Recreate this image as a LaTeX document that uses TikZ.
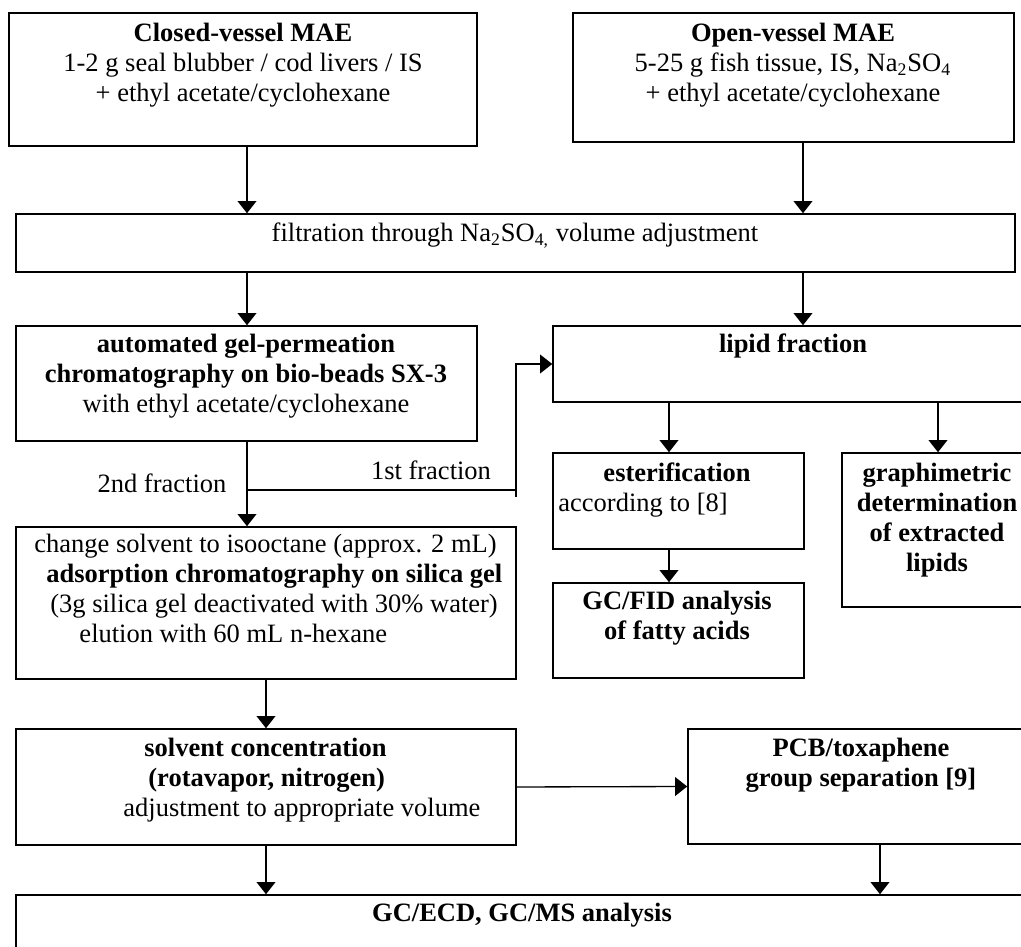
\documentclass[tikz,border=0pt]{standalone}
\usepackage{fontspec}
\setmainfont{Liberation Serif}
\usetikzlibrary{arrows.meta,positioning,fit}

\begin{document}
\begin{tikzpicture}[x=0.4528pt, y=-0.4528pt, >={Triangle[width=8.5pt,length=5.5pt]}]
  \tikzstyle{stage}=[rectangle, draw=black, line width=0.7pt, inner sep=0pt]
  \tikzstyle{stagetext}=[inner sep=0pt, font=\fontsize{12}{13.6}\selectfont]
  \tikzstyle{flow}=[line width=0.6pt]

  \useasboundingbox (0,0) rectangle (1021,947);
  \clip (0,0) rectangle (1021,947);

  % Kaesten
  \node[stage, fit={(9,13) (477,146)}] (closed) {};
  \node[stage, fit={(573,13) (1014,142)}] (open) {};
  \node[stage, fit={(16,214) (1015,272)}] (filt) {};
  \node[stage, fit={(16,326) (477,441)}] (gpc) {};
  \node[stage, fit={(553,326) (1033,402)}] (lipid) {};
  \node[stage, fit={(553,453) (804,549)}] (ester) {};
  \node[stage, fit={(553,583) (804,678)}] (gcfid) {};
  \node[stage, fit={(842,453) (1032,607)}] (graph) {};
  \node[stage, fit={(16,527) (516,679)}] (silica) {};
  \node[stage, fit={(16,729) (516,845)}] (solvent) {};
  \node[stage, fit={(688,729) (1032,844)}] (pcb) {};
  \node[stage, fit={(16,895) (1032,965)}] (gcms) {};

  % Texte (Anker = Grundlinie der letzten Zeile)
  \node[stagetext, anchor=base, align=center] (closedtxt) at (243,101.5)
    {\textbf{Closed-vessel MAE}\\1-2 g seal blubber / cod livers / IS\\+ ethyl acetate/cyclohexane};
  \node[stagetext, anchor=base, align=center] (opentxt) at (793,101.5)
    {\textbf{Open-vessel MAE}\\5-25 g fish tissue, IS, Na\textsubscript{2}SO\textsubscript{4}\\+ ethyl acetate/cyclohexane};
  \node[stagetext, anchor=base] (filttxt) at (515,241.5)
    {filtration through Na\textsubscript{2}SO\textsubscript{4,} volume adjustment};
  \node[stagetext, anchor=base, align=center] (gpctxt) at (246,413)
    {\textbf{automated gel-permeation}\\\textbf{chromatography on bio-beads SX-3}\\with ethyl acetate/cyclohexane};
  \node[stagetext, anchor=base] (lipidtxt) at (793,353) {\textbf{lipid fraction}};
  \node[stagetext, anchor=base west, align=left] (estertxt) at (558,512)
    {\hspace*{20.4pt}\textbf{esterification}\\according to [8]};
  \node[stagetext, anchor=base, align=center] (gcfidtxt) at (677,640)
    {\textbf{GC/FID analysis}\\\textbf{of fatty acids}};
  \node[stagetext, anchor=base, align=center] (graphtxt) at (937,572)
    {\textbf{graphimetric}\\\textbf{determination}\\\textbf{of extracted}\\\textbf{lipids}};
  \node[stagetext, anchor=base west, align=left] (silicatxt) at (34,643)
    {change solvent to isooctane (approx. 2 mL)\\
     \hspace*{5.4pt}\textbf{adsorption chromatography on silica gel}\\
     \hspace*{7.2pt}(3g silica gel deactivated with 30\% water)\\
     \hspace*{20.4pt}elution with 60 mL n-hexane};
  \node[stagetext, anchor=base west, align=left] (solventtxt) at (123,817)
    {\hspace*{9.5pt}\textbf{solvent concentration}\\
     \hspace*{11.3pt}\textbf{(rotavapor, nitrogen)}\\
     adjustment to appropriate volume};
  \node[stagetext, anchor=base, align=center] (pcbtxt) at (861,787)
    {\textbf{PCB/toxaphene}\\\textbf{group separation [9]}};
  \node[stagetext, anchor=base] (gcmstxt) at (522,922) {\textbf{GC/ECD, GC/MS analysis}};

  % Fraktionen
  \node[stagetext, anchor=base] (second) at (162,493) {2nd fraction};
  \node[stagetext, anchor=base] (first) at (431,480) {1st fraction};
  \coordinate (split) at (247,490);
  \coordinate (bend) at (516,497);

  % Verbindungen
  \draw[flow, ->] (closed.south -| 247,0) -- (filt.north -| 247,0);
  \draw[flow, ->] (open.south -| 803,0) -- (filt.north -| 803,0);
  \draw[flow, ->] (filt.south -| 247,0) -- (gpc.north -| 247,0);
  \draw[flow, ->] (filt.south -| 803,0) -- (lipid.north -| 803,0);
  \draw[flow, ->] (gpc.south -| 247,0) -- (silica.north -| 247,0);
  \draw[flow] (split) -- (bend |- split);
  \draw[flow, ->] (bend) |- (lipid.west);
  \draw[flow, ->] (lipid.south -| 669,0) -- (ester.north -| 669,0);
  \draw[flow, ->] (lipid.south -| 938,0) -- (graph.north -| 938,0);
  \draw[flow, ->] (ester.south -| 669,0) -- (gcfid.north -| 669,0);
  \draw[flow, ->] (silica.south -| 266,0) -- (solvent.north -| 266,0);
  \draw[flow, ->] (solvent.east) -- (pcb.west);
  \draw[flow, ->] (solvent.south -| 266,0) -- (gcms.north -| 266,0);
  \draw[flow, ->] (pcb.south -| 880,0) -- (gcms.north -| 880,0);
\end{tikzpicture}
\end{document}
